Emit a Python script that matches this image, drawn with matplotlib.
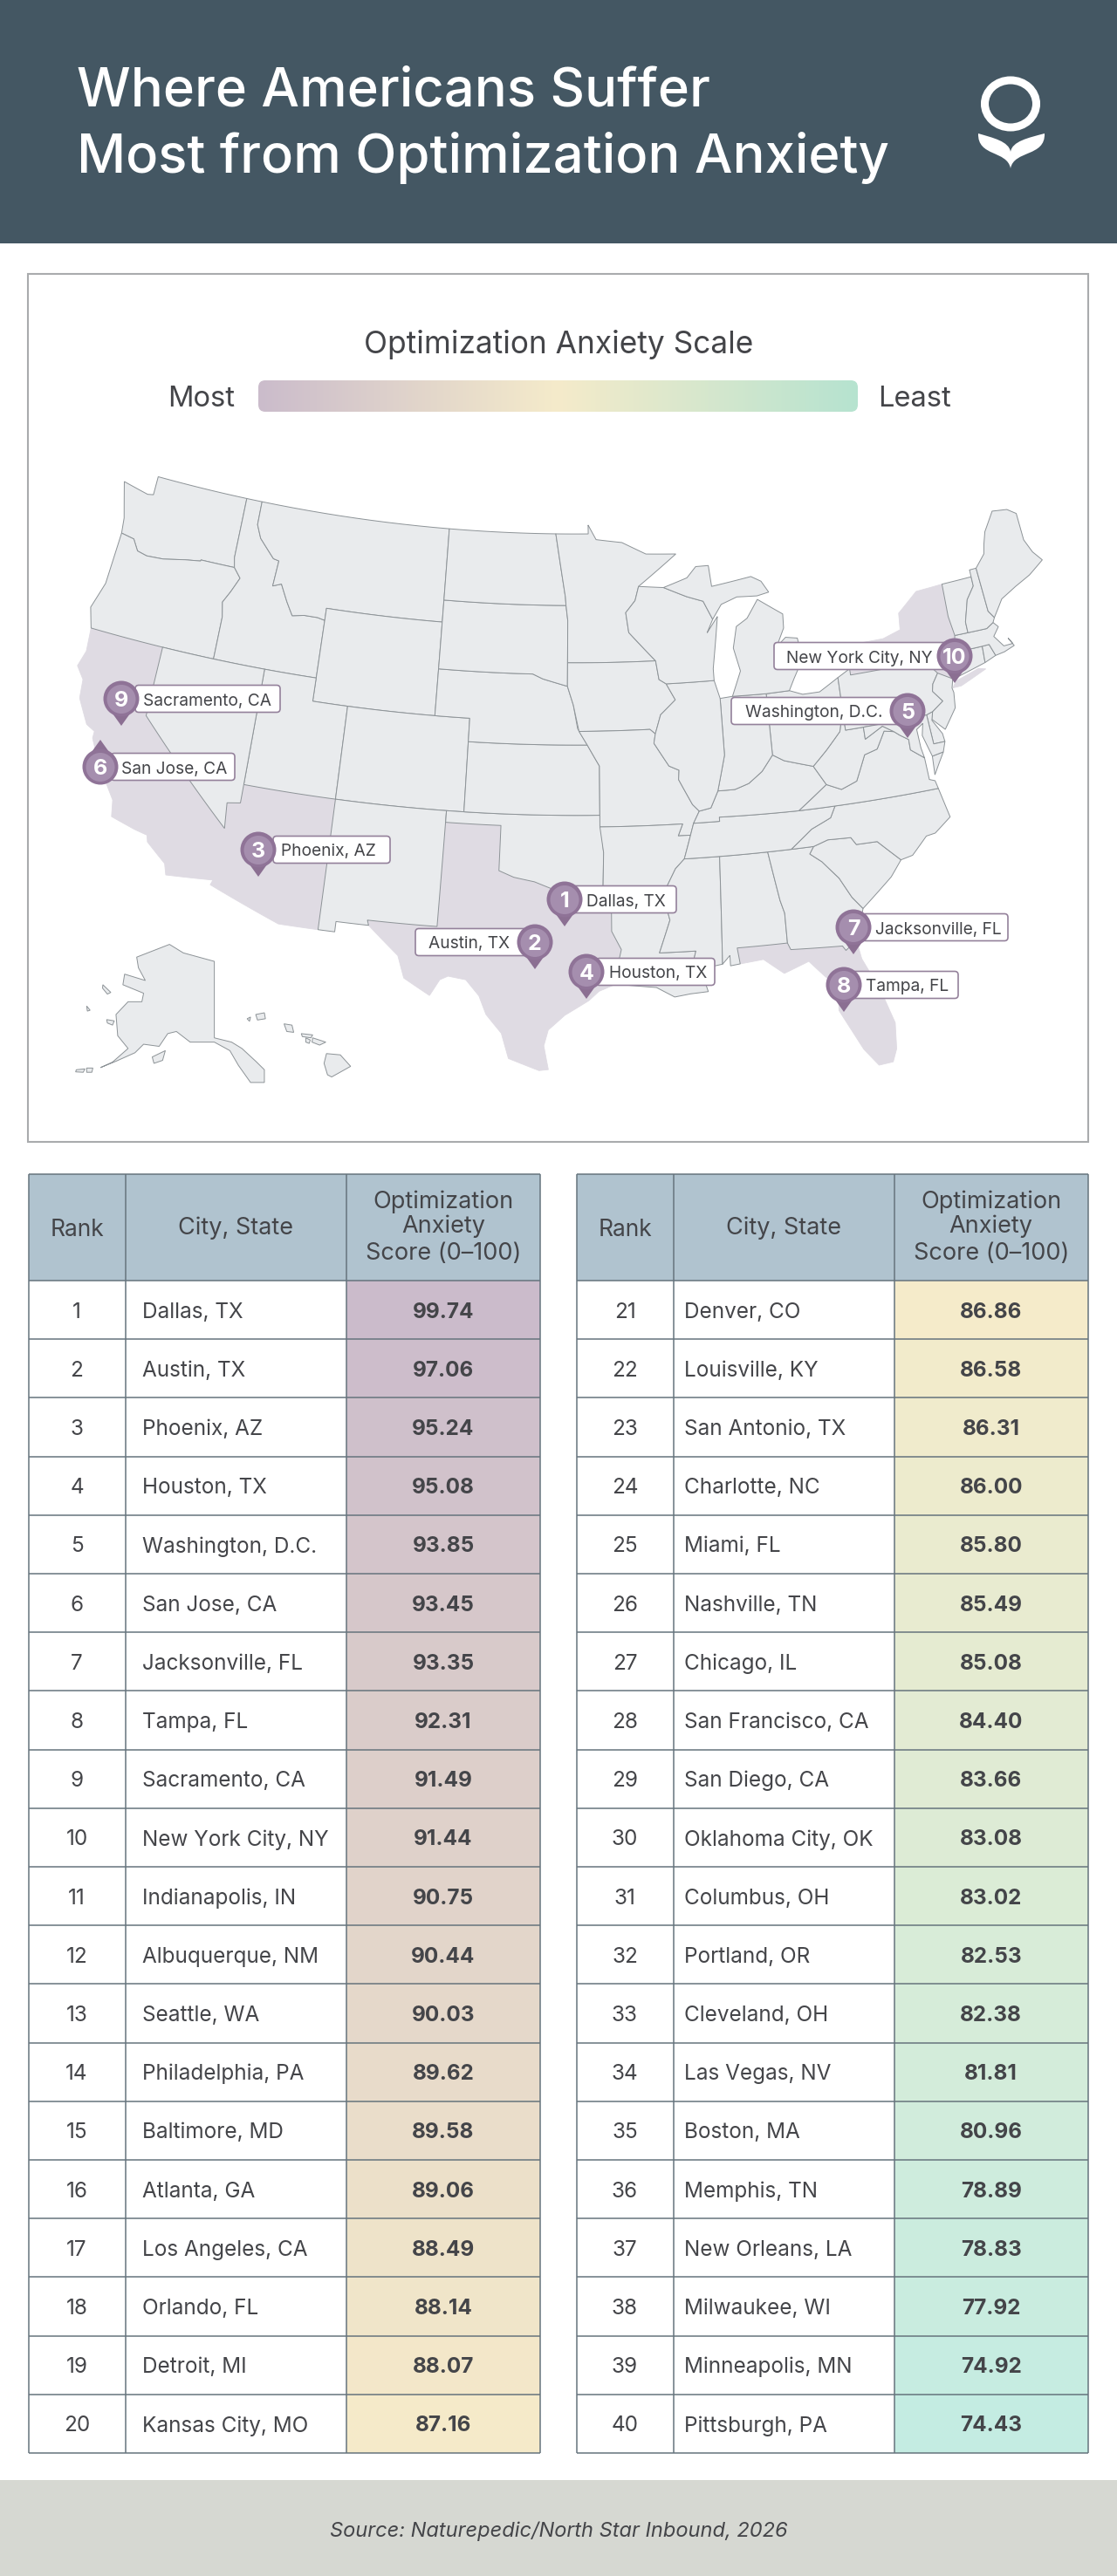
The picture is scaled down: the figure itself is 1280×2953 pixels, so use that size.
import matplotlib
matplotlib.use('Agg')
import matplotlib.pyplot as plt
import numpy as np
from matplotlib.colors import LinearSegmentedColormap
from matplotlib.patches import Rectangle, FancyBboxPatch, Polygon, Circle, Ellipse, PathPatch
from matplotlib.path import Path

plt.rcParams['font.family'] = ['Inter', 'DejaVu Sans']

# table data
cities = ['Dallas, TX', 'Austin, TX', 'Phoenix, AZ', 'Houston, TX', 'Washington, D.C.', 'San Jose, CA',
          'Jacksonville, FL', 'Tampa, FL', 'Sacramento, CA', 'New York City, NY', 'Indianapolis, IN',
          'Albuquerque, NM', 'Seattle, WA', 'Philadelphia, PA', 'Baltimore, MD', 'Atlanta, GA',
          'Los Angeles, CA', 'Orlando, FL', 'Detroit, MI', 'Kansas City, MO', 'Denver, CO', 'Louisville, KY',
          'San Antonio, TX', 'Charlotte, NC', 'Miami, FL', 'Nashville, TN', 'Chicago, IL', 'San Francisco, CA',
          'San Diego, CA', 'Oklahoma City, OK', 'Columbus, OH', 'Portland, OR', 'Cleveland, OH', 'Las Vegas, NV',
          'Boston, MA', 'Memphis, TN', 'New Orleans, LA', 'Milwaukee, WI', 'Minneapolis, MN', 'Pittsburgh, PA']
scores = [99.74, 97.06, 95.24, 95.08, 93.85, 93.45, 93.35, 92.31, 91.49, 91.44, 90.75, 90.44, 90.03, 89.62,
          89.58, 89.06, 88.49, 88.14, 88.07, 87.16, 86.86, 86.58, 86.31, 86.00, 85.80, 85.49, 85.08, 84.40,
          83.66, 83.08, 83.02, 82.53, 82.38, 81.81, 80.96, 78.89, 78.83, 77.92, 74.92, 74.43]

# shared borders, lon/lat
columbia = [(-124.0, 46.25), (-123.2, 46.15), (-122.8, 45.7), (-122.2, 45.6), (-121.2, 45.65), (-119.9, 45.85),
            (-119.0, 45.95), (-118.98, 46.0), (-116.92, 46.0)]
snake = [(-116.92, 46.0), (-116.46, 45.6), (-116.85, 44.95), (-117.2, 44.45), (-117.03, 43.83), (-117.03, 42.0)]
bitterroot = [(-116.05, 49.0), (-116.05, 48.0), (-115.7, 47.45), (-114.7, 46.7), (-114.35, 46.65), (-114.45, 45.55),
              (-113.95, 45.7), (-113.45, 45.0), (-113.0, 44.45), (-112.3, 44.55), (-111.5, 44.55), (-111.05, 44.48)]
colorado = [(-114.63, 35.0), (-114.57, 34.8), (-114.14, 34.3), (-114.43, 34.05), (-114.72, 33.4), (-114.5, 33.0),
            (-114.72, 32.72)]
red_river = [(-100.0, 34.56), (-99.2, 34.3), (-98.1, 34.13), (-97.2, 33.85), (-96.5, 33.8), (-95.3, 33.88),
             (-94.48, 33.64)]
missouri = [(-98.5, 43.0), (-97.9, 42.8), (-96.45, 42.5), (-96.1, 41.7), (-95.85, 40.7), (-95.3, 40.0)]
miss_up = [(-92.05, 46.7), (-92.3, 46.1), (-92.9, 45.6), (-92.75, 44.75), (-91.2, 43.5), (-91.05, 42.7),
           (-90.64, 42.5), (-90.15, 41.8), (-91.05, 41.2), (-91.4, 40.4)]
miss_mid = [(-91.4, 40.4), (-91.5, 40.0), (-90.7, 39.0), (-90.15, 38.8), (-90.2, 38.4), (-89.5, 37.3), (-89.15, 37.0)]
miss_low = [(-89.5, 36.5), (-89.7, 36.0), (-90.1, 35.0), (-90.6, 34.6), (-91.2, 33.7), (-91.17, 33.0), (-91.0, 32.4),
            (-91.6, 31.0)]
ohio = [(-89.15, 37.0), (-88.5, 37.1), (-88.05, 37.8), (-87.1, 37.8), (-86.3, 38.0), (-85.5, 38.45), (-84.82, 39.1),
        (-84.2, 38.8), (-82.6, 38.4)]
ohio_up = [(-82.6, 38.4), (-81.75, 39.0), (-80.85, 39.7), (-80.52, 40.64)]
savannah = [(-83.1, 35.0), (-83.35, 34.7), (-82.75, 34.3), (-81.95, 33.5), (-81.4, 32.6), (-80.9, 32.05)]
carolina = [(-83.1, 35.0), (-82.3, 35.2), (-81.05, 35.15), (-80.8, 34.82), (-79.67, 34.8), (-78.55, 33.85)]
smokies = [(-81.68, 36.59), (-82.0, 36.12), (-83.1, 35.75), (-84.32, 35.0)]
appal = [(-82.0, 37.55), (-81.2, 37.25), (-80.3, 37.5), (-79.65, 38.55), (-78.9, 38.7), (-78.35, 39.4), (-77.8, 39.3)]
delaware = [(-74.7, 41.36), (-75.1, 40.95), (-75.2, 40.65), (-74.72, 40.15), (-75.42, 39.8)]
potomac = [(-76.35, 37.95), (-77.05, 38.4), (-77.05, 38.85), (-77.5, 39.1), (-77.8, 39.3)]
connecticut = [(-72.45, 42.73), (-72.45, 43.2), (-72.05, 44.1), (-71.5, 44.6), (-71.5, 45.0)]

states = {
    'CA': [(-124.2, 42), (-120, 42), (-120, 39)] + colorado + [(-117.12, 32.53), (-117.3, 33.0), (-118.4, 33.75),
          (-118.5, 34.03), (-119.2, 34.15), (-120.5, 34.45), (-120.65, 35.15), (-121.9, 36.6), (-122.5, 37.5),
          (-122.5, 37.8), (-123.0, 38.0), (-123.75, 39.0), (-123.85, 39.8), (-124.35, 40.3), (-124.1, 41.0)],
    'AZ': [(-114.05, 37), (-109.05, 37), (-109.05, 31.33), (-111.07, 31.33), (-114.81, 32.5)] + colorado[::-1]
          + [(-114.75, 36.1), (-114.05, 36.2)],
    'TX': [(-103.04, 36.5), (-100, 36.5)] + red_river + [(-94.04, 33.55), (-94.04, 32), (-93.55, 31.2), (-93.75, 30.5),
          (-93.85, 29.7), (-94.7, 29.4), (-95.2, 29.0), (-96.4, 28.35), (-97.2, 27.7), (-97.4, 27.0), (-97.15, 25.95),
          (-97.6, 25.9), (-99.1, 26.4), (-99.5, 27.5), (-100.3, 28.3), (-100.7, 29.1), (-101.4, 29.77), (-102.3, 29.88),
          (-102.7, 29.7), (-103.15, 28.98), (-104.5, 29.65), (-104.9, 30.6), (-106.53, 31.78), (-106.62, 32),
          (-103.04, 32)],
    'NY': [(-79.76, 42.27), (-78.9, 42.85), (-79.05, 43.27), (-77.5, 43.27), (-76.4, 43.5), (-76.3, 44.2), (-75.0, 44.95),
           (-73.35, 45.0), (-73.4, 43.6), (-73.25, 42.75), (-73.5, 42.05), (-73.5, 41.3), (-73.65, 41.0), (-73.9, 40.98),
           (-74.7, 41.36), (-75.35, 42.0), (-79.76, 42.0)],
    'LI': [(-74.0, 40.6), (-73.75, 40.85), (-72.3, 41.15), (-71.9, 41.05), (-73.5, 40.6)],
    'FL': [(-87.6, 31), (-85, 31), (-84.86, 30.7), (-82.2, 30.57), (-82.05, 30.36), (-81.45, 30.72), (-81.3, 29.9),
           (-80.55, 28.4), (-80.05, 26.9), (-80.15, 25.75), (-80.4, 25.2), (-81.1, 25.15), (-81.75, 25.95), (-82.15, 26.7),
           (-82.75, 27.8), (-82.65, 28.8), (-83.3, 29.4), (-84.0, 30.1), (-85.3, 29.7), (-86.3, 30.4), (-87.5, 30.3)],
    'WA': [(-124.7, 48.4), (-123.1, 48.15), (-122.75, 48.2), (-122.75, 49), (-117.03, 49), (-117.04, 46.42), (-116.92, 46.0)]
          + columbia[::-1] + [(-124.1, 46.9)],
    'OR': [(-124.2, 42), (-124.55, 42.85), (-124.1, 44.0)] + columbia + snake[1:],
    'ID': [(-117.03, 49)] + bitterroot + [(-111.05, 42), (-117.03, 42)] + snake[::-1][1:] + [(-117.04, 46.42)],
    'MT': bitterroot + [(-111.05, 45), (-104.05, 45), (-104.05, 49)],
    'WY': [(-111.05, 45), (-104.05, 45), (-104.05, 41), (-111.05, 41)],
    'UT': [(-114.05, 42), (-111.05, 42), (-111.05, 41), (-109.05, 41), (-109.05, 37), (-114.05, 37)],
    'NV': [(-120, 42), (-114.05, 42), (-114.05, 36.2), (-114.75, 36.1), (-114.63, 35), (-120, 39)],
    'CO': [(-109.05, 41), (-102.05, 41), (-102.05, 37), (-109.05, 37)],
    'NM': [(-109.05, 37), (-103, 37), (-103.04, 32), (-106.62, 32), (-106.53, 31.78), (-108.2, 31.78), (-108.2, 31.33),
           (-109.05, 31.33)],
    'OK': [(-103, 37), (-94.62, 37), (-94.43, 35.4)] + red_river[::-1] + [(-100, 36.5), (-103, 36.5)],
    'KS': [(-102.05, 40), (-95.3, 40), (-94.62, 39.1), (-94.62, 37), (-102.05, 37)],
    'NE': [(-104.05, 43)] + missouri + [(-102.05, 40), (-102.05, 41), (-104.05, 41)],
    'SD': [(-104.05, 45.94), (-96.56, 45.94), (-96.45, 45.3), (-96.45, 43.5), (-96.45, 42.5), (-97.9, 42.8), (-98.5, 43),
           (-104.05, 43)],
    'ND': [(-104.05, 49), (-97.23, 49), (-96.6, 46.3), (-96.56, 45.94), (-104.05, 45.94)],
    'MN': [(-97.23, 49), (-95.15, 49), (-95.15, 49.38), (-94.65, 48.75), (-93.0, 48.6), (-91.5, 48.07), (-89.6, 48.0)]
          + miss_up[:5] + [(-96.45, 43.5), (-96.45, 45.3), (-96.56, 45.94), (-96.6, 46.3)],
    'IA': miss_up[4:] + [(-91.7, 40.6), (-95.77, 40.58), (-96.1, 41.7), (-96.45, 42.5), (-96.45, 43.5)],
    'MO': [(-95.77, 40.58), (-91.7, 40.6)] + miss_mid + [(-89.5, 36.5), (-89.7, 36.0), (-90.37, 36), (-90.1, 36.5),
          (-94.62, 36.5), (-94.62, 39.1), (-95.3, 40)],
    'AR': [(-94.62, 36.5), (-90.1, 36.5), (-90.37, 36)] + miss_low[1:6] + [(-94.04, 33), (-94.04, 33.55), (-94.48, 33.64),
          (-94.43, 35.4)],
    'LA': [(-94.04, 33), (-91.17, 33), (-91.0, 32.4), (-91.6, 31), (-89.73, 31), (-89.85, 30.65), (-89.55, 30.2),
           (-89.4, 29.8), (-89.2, 29.2), (-90.1, 29.15), (-90.9, 29.05), (-91.8, 29.5), (-92.3, 29.55), (-93.85, 29.7),
           (-93.75, 30.5), (-93.55, 31.2), (-94.04, 32)],
    'MS': miss_low[2:] + [(-89.73, 31), (-89.85, 30.65), (-89.55, 30.2), (-88.4, 30.35), (-88.2, 35)],
    'AL': [(-88.2, 35), (-85.6, 35), (-85.18, 32.87), (-85, 32.3), (-85, 31), (-87.6, 31), (-87.5, 30.3), (-88.0, 30.25),
           (-88.0, 30.7), (-88.4, 30.35)],
    'GA': [(-85.6, 35)] + savannah + [(-81.45, 30.72), (-82.05, 30.36), (-82.2, 30.57), (-84.86, 30.7), (-85, 31), (-85, 32.3),
          (-85.18, 32.87)],
    'SC': carolina + [(-79.2, 33.2)] + savannah[::-1][:-1],
    'NC': [(-84.32, 35)] + carolina + [(-77.9, 33.95), (-77.0, 34.65), (-76.5, 34.7), (-75.55, 35.25), (-75.9, 36.55)]
          + smokies[:-1],
    'TN': miss_low[:3] + [(-88.2, 35), (-85.6, 35)] + smokies[::-1] + [(-83.68, 36.6), (-88.07, 36.68), (-88.07, 36.5)],
    'KY': [(-89.5, 36.5)] + ohio + [(-82.0, 37.55), (-83.68, 36.6), (-88.07, 36.68), (-88.07, 36.5)],
    'VA': [(-83.68, 36.6), (-81.68, 36.59), (-75.9, 36.55), (-76.0, 36.9), (-76.3, 37.0)] + potomac + appal[::-1],
    'VAe': [(-75.25, 38.03), (-75.9, 37.95), (-75.95, 37.15), (-75.6, 37.6)],
    'WV': appal + [(-78.4, 39.62), (-79.48, 39.2), (-79.48, 39.72), (-80.52, 39.72)] + ohio_up[::-1] + [(-82.0, 37.55)],
    'OH': [(-84.82, 41.72), (-83.45, 41.73), (-82.7, 41.5), (-81.7, 41.5), (-80.52, 41.98)] + ohio_up[::-1]
          + [(-84.2, 38.8), (-84.82, 39.1)],
    'IN': [(-87.53, 41.72), (-86.8, 41.76), (-84.82, 41.72), (-84.82, 39.1), (-85.5, 38.45), (-86.3, 38), (-87.1, 37.8),
           (-88.05, 37.8), (-87.53, 39.3)],
    'IL': [(-90.64, 42.5), (-87.8, 42.5), (-87.53, 41.72), (-87.53, 39.3), (-88.05, 37.8), (-88.5, 37.1)]
          + miss_mid[::-1] + miss_up[:-1][::-1][:3],
    'WI': [(-92.05, 46.7), (-90.5, 46.6), (-89.1, 46.15), (-88.1, 45.9), (-87.6, 45.1), (-88.0, 44.55), (-87.3, 45.2),
           (-87.5, 44.3), (-87.8, 43.0), (-87.8, 42.5), (-90.64, 42.5), (-91.05, 42.7), (-91.2, 43.5), (-92.75, 44.75),
           (-92.9, 45.6), (-92.3, 46.1)],
    'MIl': [(-86.8, 41.76), (-84.82, 41.72), (-83.45, 41.73), (-83.1, 42.2), (-82.45, 43.0), (-82.6, 43.9), (-83.3, 44.0),
            (-83.9, 43.65), (-83.35, 44.4), (-83.3, 45.0), (-84.75, 45.75), (-85.5, 45.0), (-86.2, 44.7), (-86.5, 43.8),
            (-86.2, 42.8)],
    'MIu': [(-90.5, 46.6), (-89, 46.95), (-88.4, 47.4), (-87.6, 47.4), (-87.5, 46.5), (-86.0, 46.65), (-85.0, 46.75),
            (-84.4, 46.5), (-84.0, 46.0), (-84.75, 45.9), (-86.0, 45.95), (-87.0, 45.7), (-87.6, 45.1), (-88.1, 45.9),
            (-89.1, 46.15)],
    'PA': [(-80.52, 41.98), (-79.76, 42.27), (-79.76, 42), (-75.35, 42)] + delaware + [(-75.79, 39.72), (-80.52, 39.72)],
    'NJ': [(-74.7, 41.36), (-73.9, 40.98), (-74.05, 40.6), (-74.0, 40.4), (-74.1, 39.75), (-74.9, 38.95), (-75.55, 39.5),
           (-75.42, 39.8), (-74.72, 40.15), (-75.2, 40.65), (-75.1, 40.95)],
    'DE': [(-75.79, 39.72), (-75.42, 39.8), (-75.55, 39.45), (-75.1, 38.8), (-75.05, 38.45), (-75.7, 38.45)],
    'MD': [(-79.48, 39.72), (-75.79, 39.72), (-75.7, 38.45), (-75.05, 38.45), (-75.25, 38.03), (-75.9, 37.95), (-76.25, 38.9),
           (-76.1, 39.4), (-76.5, 39.2), (-76.45, 38.4)] + potomac + [(-78.4, 39.62), (-79.48, 39.2)],
    'CT': [(-73.5, 42.05), (-71.8, 42.02), (-71.85, 41.32), (-73.65, 41.0), (-73.5, 41.3)],
    'RI': [(-71.8, 42.02), (-71.38, 42.02), (-71.15, 41.5), (-71.85, 41.32)],
    'MA': [(-73.25, 42.75), (-72.45, 42.73), (-71.3, 42.7), (-70.85, 42.88), (-70.6, 42.65), (-71.0, 42.3), (-70.55, 41.8),
           (-70.0, 41.8), (-70.2, 42.07), (-69.95, 41.7), (-70.6, 41.55), (-71.15, 41.5), (-71.38, 42.02), (-71.8, 42.02),
           (-73.5, 42.05)],
    'VT': [(-73.35, 45), (-71.5, 45)] + connecticut[::-1][1:] + [(-73.25, 42.75), (-73.4, 43.6)],
    'NH': [(-71.5, 45.3), (-71.08, 45.3), (-70.98, 43.4), (-70.7, 43.07), (-70.85, 42.88), (-71.3, 42.7)] + connecticut,
    'ME': [(-71.08, 45.3), (-70.4, 45.8), (-70.25, 46.2), (-70.0, 46.7), (-69.23, 47.46), (-68.3, 47.35), (-67.79, 47.07),
           (-67.78, 45.9), (-67.45, 45.3), (-67.0, 44.85), (-68.0, 44.4), (-69.0, 44.1), (-70.0, 43.75), (-70.7, 43.07),
           (-70.98, 43.4)],
}
highlighted = ['CA', 'AZ', 'TX', 'NY', 'LI', 'FL']

# control points lon/lat -> pixel
ctrl_ll = [(-124.7, 48.4), (-67.0, 44.85), (-81.0, 25.15), (-97.15, 25.95), (-104.05, 49), (-116.05, 49),
           (-109.05, 37), (-117.12, 32.53), (-75.35, 42), (-124.2, 42), (-124.35, 40.4), (-114.05, 42), (-120, 42),
           (-111.05, 41), (-102.05, 41), (-102.05, 37), (-103.04, 32), (-106.53, 31.78), (-111.07, 31.33),
           (-114.81, 32.5), (-114.72, 32.72), (-73.35, 45), (-69.23, 47.46), (-67.79, 47.07), (-70, 41.8),
           (-75.55, 35.25), (-80.9, 32.05), (-84.82, 41.72), (-89.15, 37), (-87.53, 41.72), (-89.6, 48),
           (-89.2, 29.2), (-88.4, 30.35)]
ctrl_px = [(144, 553), (1192, 639), (1014, 1224), (621, 1224), (510, 608), (299, 575), (377, 916), (182, 1003),
           (1069, 766), (102, 717), (87, 759), (298, 767), (182, 742), (392, 810), (531, 823), (524, 931), (493, 1063),
           (420, 1058), (356, 1066), (234, 1013), (240, 1007), (1076, 669), (1134, 586), (1163, 590), (1162, 737),
           (1092, 934), (988, 1041), (873, 795), (796, 929), (821, 800), (788, 630), (814, 1141), (826, 1097)]

# insets, traced in zoom coordinates
alaska = [(295, 1185), (390, 1155), (430, 1175), (520, 1195), (520, 1375), (570, 1385), (600, 1400), (640, 1430), (665, 1450),
          (665, 1480), (625, 1480), (590, 1440), (565, 1405), (520, 1385), (450, 1385), (410, 1360), (385, 1365), (360, 1395),
          (315, 1390), (290, 1410), (235, 1430), (190, 1445), (225, 1432), (270, 1400), (240, 1370), (235, 1320), (270, 1290),
          (310, 1290), (315, 1270), (255, 1250), (260, 1225), (320, 1240), (300, 1210)]
islands = [[(197, 1250), (220, 1268), (210, 1272), (196, 1258)], [(150, 1300), (160, 1310), (152, 1312)],
           [(208, 1332), (230, 1335), (225, 1345), (210, 1340)], [(340, 1420), (378, 1405), (370, 1428), (345, 1435)],
           [(120, 1450), (145, 1448), (140, 1456), (118, 1455)], [(150, 1446), (168, 1446), (165, 1456), (150, 1456)],
           [(640, 1320), (665, 1316), (668, 1330), (645, 1333)], [(615, 1330), (625, 1326), (622, 1336)],
           [(722, 1342), (745, 1345), (750, 1362), (730, 1360)], [(772, 1365), (805, 1368), (800, 1375), (775, 1372)],
           [(785, 1375), (798, 1380), (795, 1388), (785, 1385)], [(805, 1375), (843, 1385), (825, 1392), (803, 1385)],
           [(845, 1412), (885, 1415), (915, 1442), (860, 1467), (848, 1462), (838, 1435)]]

# pins: head centre, label box, text start
pin_text = ['9', '6', '3', '1', '2', '4', '7', '8', '10', '5']
pin_name = ['Sacramento, CA', 'San Jose, CA', 'Phoenix, AZ', 'Dallas, TX', 'Austin, TX', 'Houston, TX',
            'Jacksonville, FL', 'Tampa, FL', 'New York City, NY', 'Washington, D.C.']
pin_xy = [(139, 801), (115, 879), (296, 974), (647, 1031), (613, 1080), (672, 1114), (978, 1063), (967, 1129), (1094, 752), (1040, 815)]
pin_box = [(155, 321), (127, 269), (313, 447), (656, 775), (476, 605), (683, 819), (988, 1155), (976, 1098), (887, 1087), (838, 1031)]
pin_txt = [164, 139, 322, 672, 491, 698, 1003, 992, 901, 854]

HEADER = '#445763'
INK = '#444549'
GRID = '#66747d'
cmap = LinearSegmentedColormap.from_list('score', ['#cbbbcb', '#f6ebc9', '#c4ece2'])
bar_cmap = LinearSegmentedColormap.from_list('bar', ['#cbbccc', '#f5ebca', '#b6e3d0'])


def albers(lon, lat, p1=29.5, p2=45.5, lon0=-96.0, lat0=37.5):
    lon, lat, p1, p2, lat0 = map(np.radians, (lon, lat, p1, p2, lat0))
    lon0 = np.radians(lon0)
    n = (np.sin(p1) + np.sin(p2)) / 2
    c = np.cos(p1) ** 2 + 2 * n * np.sin(p1)
    rho = np.sqrt(c - 2 * n * np.sin(lat)) / n
    rho0 = np.sqrt(c - 2 * n * np.sin(lat0)) / n
    theta = n * (lon - lon0)
    return rho * np.sin(theta), rho0 - rho * np.cos(theta)


def features(x, y):
    return np.c_[x, y, np.ones(len(x)), x * x, x * y, y * y]


cx, cy = albers(*np.array(ctrl_ll).T)
coef = np.linalg.lstsq(features(cx, cy), np.array(ctrl_px, dtype=float), rcond=None)[0]


def project(points):
    # straight runs get curved by the projection, so split them up first
    pts = list(points) + [points[0]]
    lon, lat = [], []
    for (a, b), (c, d) in zip(pts[:-1], pts[1:]):
        lon.extend(np.linspace(a, c, 12, endpoint=False))
        lat.extend(np.linspace(b, d, 12, endpoint=False))
    x, y = albers(np.array(lon), np.array(lat))
    return features(x, y) @ coef


def zoom_xy(points):
    p = np.array(points, dtype=float)
    return np.c_[40 + p[:, 0] / 2.529, 520 + p[:, 1] / 2.053]


fig = plt.figure(figsize=(12.8, 29.53), dpi=100)
ax = fig.add_axes([0, 0, 1, 1])
ax.set_xlim(0, 1280)
ax.set_ylim(2953, 0)
ax.axis('off')

# header
ax.add_patch(Rectangle((0, 0), 1280, 279, fc=HEADER, ec='none'))
ax.text(88, 122, 'Where Americans Suffer', color='white', fontsize=44.3, fontweight='medium', va='baseline')
ax.text(88, 198, 'Most from Optimization Anxiety', color='white', fontsize=44.3, fontweight='medium', va='baseline')
ax.add_patch(Ellipse((1158, 119), 59, 54, fc='none', ec='white', lw=6.5))
leaf = Path([(1158, 193), (1154, 172), (1120, 180), (1121, 153), (1138, 158), (1156, 162), (1158, 174),
             (1160, 162), (1178, 158), (1197, 153), (1198, 180), (1162, 172), (1158, 193), (1158, 193)],
            [Path.MOVETO, Path.CURVE4, Path.CURVE4, Path.CURVE4, Path.CURVE4, Path.CURVE4, Path.CURVE4,
             Path.CURVE4, Path.CURVE4, Path.CURVE4, Path.CURVE4, Path.CURVE4, Path.CURVE4, Path.CLOSEPOLY])
ax.add_patch(PathPatch(leaf, fc='white', ec='none'))

# map panel
ax.add_patch(Rectangle((32, 314), 1215, 995, fc='white', ec='#a9abad', lw=1.5))
ax.text(640, 405, 'Optimization Anxiety Scale', color=INK, fontsize=25.4, ha='center', va='baseline')
ax.text(231, 466, 'Most', color=INK, fontsize=23.5, ha='center', va='baseline')
ax.text(1048, 466, 'Least', color=INK, fontsize=23.5, ha='center', va='baseline')
grad = ax.imshow(np.linspace(0, 1, 256)[None, :], extent=(296, 983, 472, 436), cmap=bar_cmap, aspect='auto', zorder=2)
clip = FancyBboxPatch((296, 436), 687, 36, boxstyle='round,pad=0,rounding_size=8', fc='none', ec='none')
ax.add_patch(clip)
grad.set_clip_path(clip)
ax.set_xlim(0, 1280)
ax.set_ylim(2953, 0)

for name in highlighted:
    ax.add_patch(Polygon(project(states[name]), fc='#dfdbe3', ec='#dfdbe3', lw=0.6, zorder=3))
for name, pts in states.items():
    if name not in highlighted:
        ax.add_patch(Polygon(project(pts), fc='#e9ebed', ec='#8d9397', lw=0.7, zorder=4))
ax.add_patch(Polygon(zoom_xy(alaska), fc='#e9ebed', ec='#8d9397', lw=0.7, zorder=4))
for isl in islands:
    ax.add_patch(Polygon(zoom_xy(isl), fc='#e9ebed', ec='#8d9397', lw=0.7, zorder=4))

for num, name, (px, py), (bx0, bx1), tx in zip(pin_text, pin_name, pin_xy, pin_box, pin_txt):
    ax.add_patch(FancyBboxPatch((bx0, py - 15.5), bx1 - bx0, 31, boxstyle='round,pad=0,rounding_size=4',
                                fc='white', ec='#94819b', lw=1.2, zorder=5))
    ax.text(tx, py + 0.5, name, color=INK, fontsize=13.8, ha='left', va='center_baseline', zorder=6)
    tip = -1 if num == '6' else 1
    ax.add_patch(Polygon([(px - 10, py + tip * 17), (px + 10, py + tip * 17), (px, py + tip * 31)],
                         fc='#8b6f92', ec='none', zorder=7))
    ax.add_patch(Circle((px, py), 20.5, fc='#8f7397', ec='none', zorder=7))
    ax.add_patch(Circle((px, py + 0.5), 16.5, fc='#a58eae', ec='none', zorder=7))
    ax.text(px, py, num, color='white', fontsize=18, fontweight='bold', ha='center', va='center_baseline', zorder=8)

# tables
TOP, HEAD_BOT, ROW_H = 1346, 1468, 67.2
table_cols = [(32.5, 143.5, 397, 619, 19.5), (660.5, 771.5, 1025, 1246.5, 13)]
for t, (x0, x1, x2, x3, pad) in enumerate(table_cols):
    ax.add_patch(Rectangle((x0, TOP), x3 - x0, HEAD_BOT - TOP, fc='#b0c3cf', ec='none'))
    ax.text((x0 + x1) / 2, 1407, 'Rank', color=INK, fontsize=19, ha='center', va='center_baseline')
    ax.text((x1 + x2) / 2, 1405, 'City, State', color=INK, fontsize=19.5, ha='center', va='center_baseline')
    for line, yy in zip(['Optimization', 'Anxiety', 'Score (0–100)'], [1385, 1413, 1444]):
        ax.text((x2 + x3) / 2, yy, line, color=INK, fontsize=19.5, ha='center', va='baseline')
    for r in range(20):
        i = t * 20 + r
        y = HEAD_BOT + r * ROW_H
        ax.add_patch(Rectangle((x2, y), x3 - x2, ROW_H, fc=cmap(i / 39), ec='none'))
        ax.text((x0 + x1) / 2, y + ROW_H / 2, str(i + 1), color=INK, fontsize=17.5, ha='center', va='center_baseline')
        ax.text(x1 + pad, y + ROW_H / 2, cities[i], color=INK, fontsize=17.5, ha='left', va='center_baseline')
        ax.text((x2 + x3) / 2, y + ROW_H / 2, f'{scores[i]:.2f}', color=INK, fontsize=17.5, fontweight='bold',
                ha='center', va='center_baseline')
    ys = [TOP, HEAD_BOT] + [HEAD_BOT + (r + 1) * ROW_H for r in range(20)]
    ax.hlines(ys, x0, x3, color=GRID, lw=1.1, zorder=3)
    ax.vlines([x0, x1, x2, x3], TOP, ys[-1], color=GRID, lw=1.1, zorder=3)

# footer
ax.add_patch(Rectangle((0, 2843), 1280, 110, fc='#d6d8d2', ec='none'))
ax.text(640, 2908, 'Source: Naturepedic/North Star Inbound, 2026', color=INK, fontsize=17, style='italic',
        ha='center', va='baseline')

fig.savefig('out.png', dpi=100)
